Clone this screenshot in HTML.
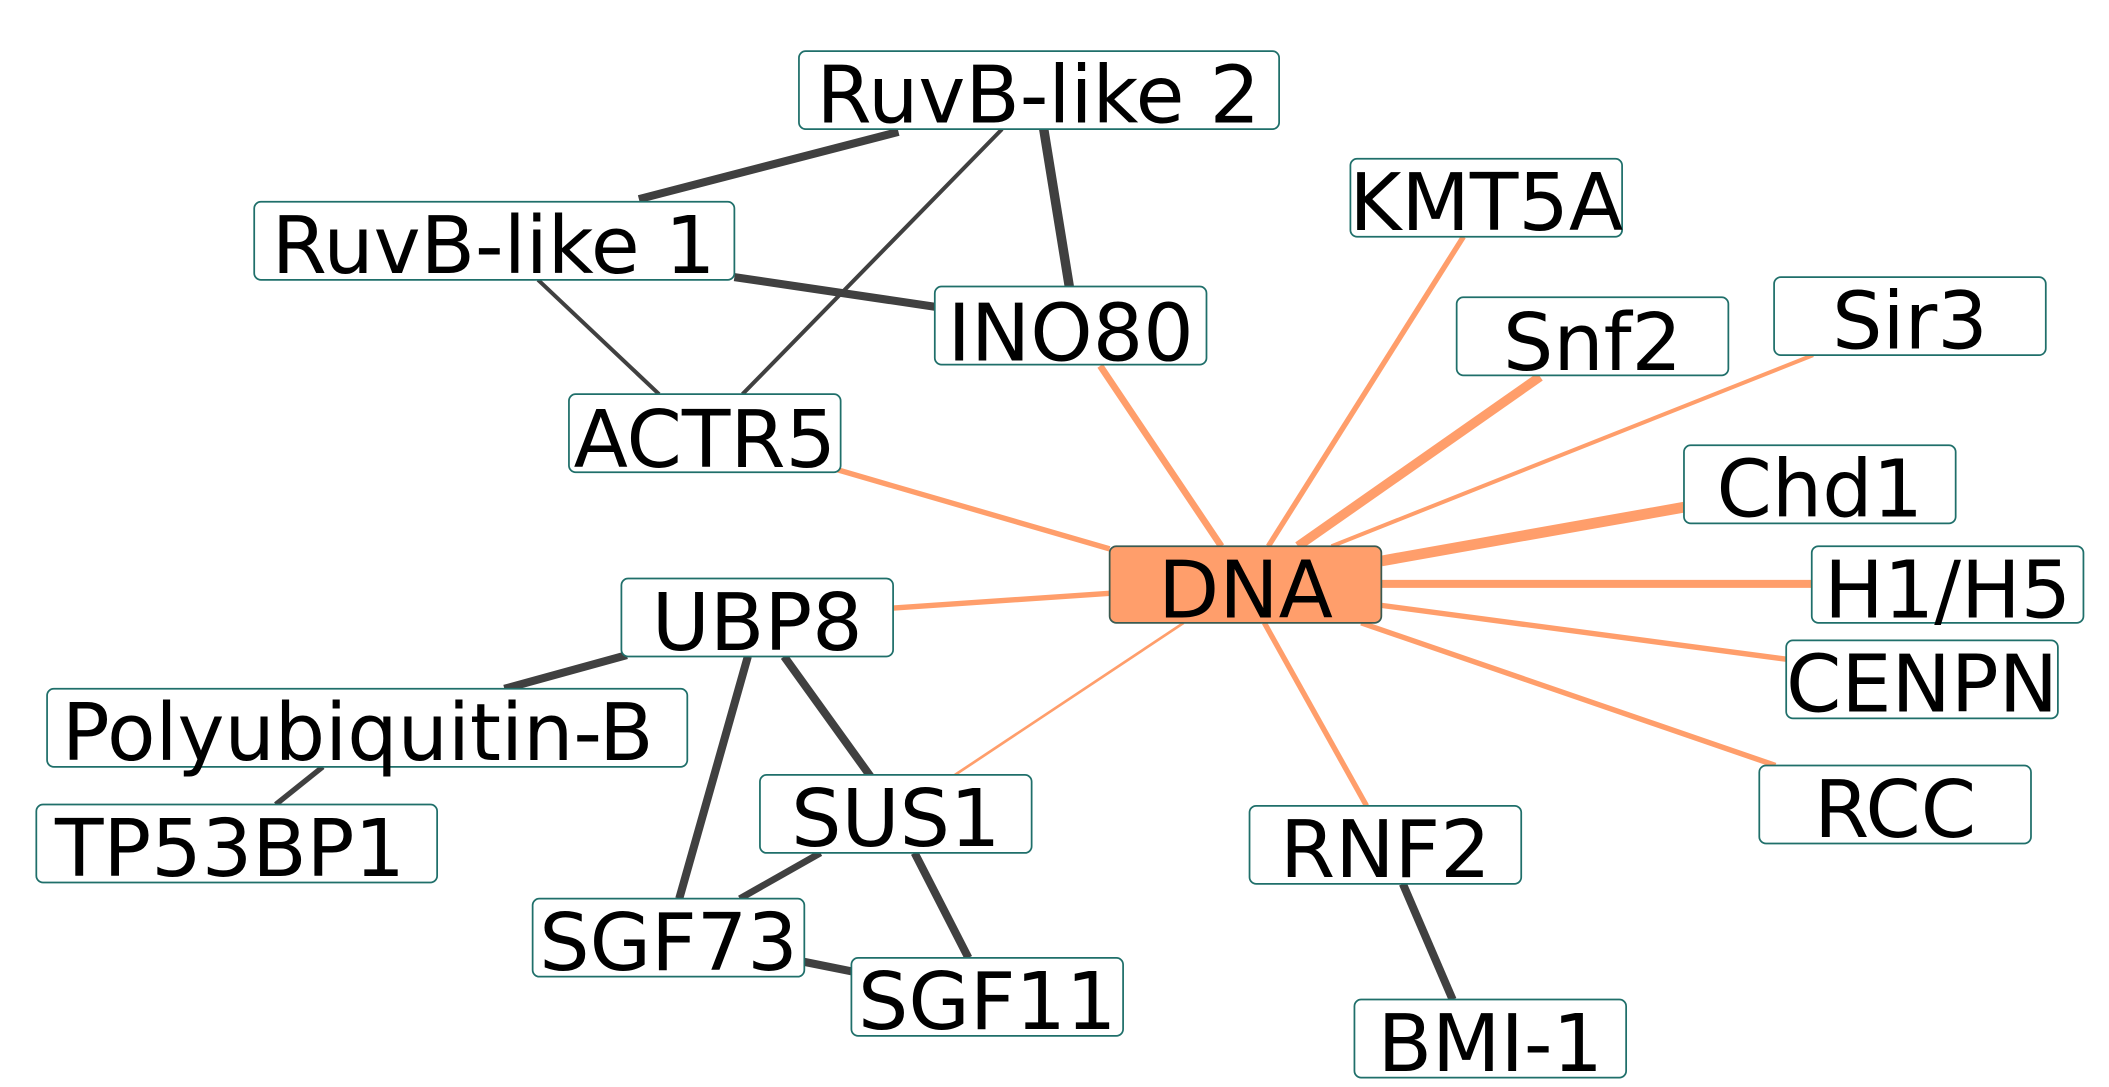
<!DOCTYPE html>
<html><head><meta charset="utf-8"><style>html,body{margin:0;padding:0;background:#fff}svg{display:block}</style></head>
<body>
<svg width="2109" height="1087" viewBox="0 0 1568 808" preserveAspectRatio="none" xmlns="http://www.w3.org/2000/svg">
<g stroke="#404040" stroke-linecap="butt">
<line x1="475" y1="148" x2="668" y2="98" stroke-width="6"/>
<line x1="745" y1="96" x2="552" y2="293" stroke-width="3"/>
<line x1="776" y1="96" x2="795" y2="213" stroke-width="7"/>
<line x1="546" y1="206" x2="695" y2="228" stroke-width="6"/>
<line x1="400" y1="208" x2="490" y2="293" stroke-width="3"/>
<line x1="466" y1="487" x2="375" y2="512" stroke-width="6"/>
<line x1="240" y1="570" x2="205" y2="598" stroke-width="4"/>
<line x1="556" y1="488" x2="505" y2="668" stroke-width="6"/>
<line x1="583" y1="488" x2="668" y2="606" stroke-width="6"/>
<line x1="610" y1="634" x2="550" y2="668" stroke-width="5"/>
<line x1="680" y1="634" x2="720" y2="712" stroke-width="6"/>
<line x1="598" y1="715" x2="633" y2="722" stroke-width="6"/>
<line x1="1043" y1="657" x2="1080" y2="743" stroke-width="6"/>
</g>
<g stroke="#ff9e6b">
<line x1="825" y1="408" x2="622" y2="349" stroke-width="4"/>
<line x1="908" y1="406" x2="818" y2="272" stroke-width="5"/>
<line x1="943" y1="406" x2="1088" y2="176" stroke-width="4"/>
<line x1="965" y1="406" x2="1145" y2="280" stroke-width="7"/>
<line x1="990" y1="406" x2="1348" y2="264" stroke-width="3"/>
<line x1="1027" y1="417" x2="1252" y2="377" stroke-width="8"/>
<line x1="1027" y1="434" x2="1347" y2="434" stroke-width="6"/>
<line x1="1027" y1="450" x2="1328" y2="490" stroke-width="4"/>
<line x1="1012" y1="463" x2="1320" y2="569" stroke-width="4"/>
<line x1="940" y1="463" x2="1016" y2="599" stroke-width="4"/>
<line x1="825" y1="441" x2="664" y2="452" stroke-width="4"/>
<line x1="880" y1="463" x2="710" y2="576" stroke-width="2"/>
</g>
<g font-family="DejaVu Sans, Liberation Sans, sans-serif" font-size="59" text-anchor="middle" stroke-width="1.3">
<g fill="#fff" stroke="#1f6f6a">
<rect x="594" y="38" width="357" height="58" rx="5"/>
<rect x="189" y="150" width="357" height="58" rx="5"/>
<rect x="1004" y="118" width="202" height="58" rx="5"/>
<rect x="695" y="213" width="202" height="58" rx="5"/>
<rect x="1083" y="221" width="202" height="58" rx="5"/>
<rect x="1319" y="206" width="202" height="58" rx="5"/>
<rect x="423" y="293" width="202" height="58" rx="5"/>
<rect x="1252" y="331" width="202" height="58" rx="5"/>
<rect x="825" y="406" width="202" height="57" rx="5" fill="#ff9e6b" stroke="#3a5a50"/>
<rect x="1347" y="406" width="202" height="57" rx="5"/>
<rect x="462" y="430" width="202" height="58" rx="5"/>
<rect x="1328" y="476" width="202" height="58" rx="5"/>
<rect x="35" y="512" width="476" height="58" rx="5"/>
<rect x="1308" y="569" width="202" height="58" rx="5"/>
<rect x="565" y="576" width="202" height="58" rx="5"/>
<rect x="27" y="598" width="298" height="58" rx="5"/>
<rect x="929" y="599" width="202" height="58" rx="5"/>
<rect x="396" y="668" width="202" height="58" rx="5"/>
<rect x="633" y="712" width="202" height="58" rx="5"/>
<rect x="1007" y="743" width="202" height="58" rx="5"/>
</g>
<g fill="#000">
<text x="772" y="91">RuvB-like 2</text>
<text x="367" y="203">RuvB-like 1</text>
<text x="1105" y="171">KMT5A</text>
<text x="796" y="268">INO80</text>
<text x="1184" y="275">Snf2</text>
<text x="1420" y="259">Sir3</text>
<text x="524" y="347">ACTR5</text>
<text x="1353" y="384">Chd1</text>
<text x="926" y="459">DNA</text>
<text x="1448" y="459">H1/H5</text>
<text x="563" y="483">UBP8</text>
<text x="1429" y="529">CENPN</text>
<text x="266" y="565">Polyubiquitin-B</text>
<text x="1409" y="622">RCC</text>
<text x="666" y="629">SUS1</text>
<text x="171" y="651">TP53BP1</text>
<text x="1030" y="652">RNF2</text>
<text x="497" y="721">SGF73</text>
<text x="734" y="765">SGF11</text>
<text x="1108" y="796">BMI-1</text>
</g>
</g>
</svg>
</body></html>
